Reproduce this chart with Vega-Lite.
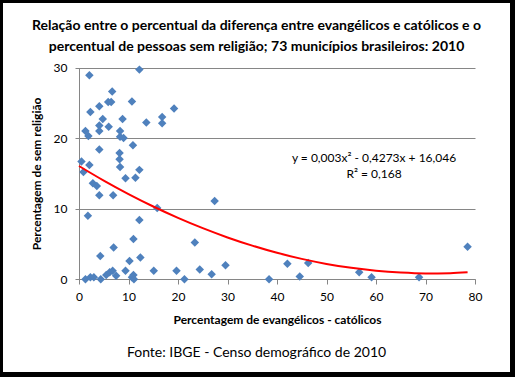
{
  "$schema": "https://vega.github.io/schema/vega-lite/v6.json",
  "width": 507,
  "height": 369,
  "autosize": {"type": "none"},
  "padding": {"left": 3, "top": 3, "right": 5, "bottom": 5},
  "background": "#000000",
  "config": {
    "view": {"fill": "#ffffff", "stroke": null},
    "font": "Lato"
  },
  "title": {
    "text": ["Relação entre o percentual da diferença entre evangélicos e católicos e o", "percentual de pessoas sem religião;  73 municípios brasileiros: 2010"],
    "subtitle": "Fonte: IBGE - Censo demográfico de 2010",
    "orient": "top",
    "anchor": "middle",
    "frame": "group",
    "font": "Lato",
    "fontSize": 14,
    "fontWeight": "bold",
    "color": "#000000",
    "lineHeight": 21,
    "subtitleFont": "Lato",
    "subtitleFontSize": 14,
    "subtitleFontWeight": "normal",
    "subtitleColor": "#000000",
    "subtitlePadding": 292,
    "offset": -357
  },
  "datasets": {
    "pts": [
      {"x": 2.1, "y": 28.9}, {"x": 12.2, "y": 29.7}, {"x": 6.7, "y": 26.6}, {"x": 4.1, "y": 24.5}, {"x": 5.9, "y": 25.1},
      {"x": 6.5, "y": 25.1}, {"x": 10.7, "y": 25.2}, {"x": 2.3, "y": 23.7}, {"x": 19.2, "y": 24.2}, {"x": 4.8, "y": 22.7},
      {"x": 8.8, "y": 22.7}, {"x": 13.6, "y": 22.2}, {"x": 16.8, "y": 23.0}, {"x": 16.8, "y": 22.1}, {"x": 4.1, "y": 21.8},
      {"x": 6.0, "y": 21.6}, {"x": 1.3, "y": 21.0}, {"x": 4.1, "y": 21.0}, {"x": 1.9, "y": 20.3}, {"x": 8.3, "y": 21.0},
      {"x": 8.3, "y": 20.2}, {"x": 9.0, "y": 20.0}, {"x": 10.9, "y": 19.0}, {"x": 4.1, "y": 18.4}, {"x": 8.2, "y": 17.9},
      {"x": 8.2, "y": 17.0}, {"x": 0.5, "y": 16.7}, {"x": 2.1, "y": 16.2}, {"x": 8.3, "y": 15.9}, {"x": 12.2, "y": 15.5},
      {"x": 0.9, "y": 15.2}, {"x": 2.8, "y": 13.6}, {"x": 3.6, "y": 13.2}, {"x": 4.1, "y": 11.9}, {"x": 6.9, "y": 11.9},
      {"x": 9.4, "y": 14.3}, {"x": 11.4, "y": 14.4}, {"x": 15.8, "y": 10.1}, {"x": 1.8, "y": 9.0}, {"x": 12.2, "y": 8.4},
      {"x": 27.4, "y": 11.1}, {"x": 11.0, "y": 5.7}, {"x": 7.0, "y": 4.5}, {"x": 4.3, "y": 3.3}, {"x": 12.4, "y": 3.1},
      {"x": 10.2, "y": 2.6}, {"x": 23.4, "y": 5.2}, {"x": 9.4, "y": 1.2}, {"x": 15.1, "y": 1.2}, {"x": 19.7, "y": 1.2},
      {"x": 11.0, "y": 0.6}, {"x": 10.7, "y": 0.3}, {"x": 11.1, "y": 0.0}, {"x": 1.3, "y": 0.0}, {"x": 2.3, "y": 0.3},
      {"x": 3.0, "y": 0.3}, {"x": 4.4, "y": 0.0}, {"x": 5.5, "y": 0.6}, {"x": 6.2, "y": 1.0}, {"x": 6.8, "y": 1.2},
      {"x": 7.5, "y": 0.5}, {"x": 21.3, "y": 0.0}, {"x": 24.4, "y": 1.4}, {"x": 26.8, "y": 0.7}, {"x": 29.6, "y": 2.0},
      {"x": 38.4, "y": 0.0}, {"x": 42.1, "y": 2.2}, {"x": 44.6, "y": 0.4}, {"x": 46.3, "y": 2.3}, {"x": 56.6, "y": 1.0},
      {"x": 59.1, "y": 0.3}, {"x": 68.7, "y": 0.3}, {"x": 78.5, "y": 4.6}
    ],
    "trend": [
      {"x": 0, "y": 16.05}, {"x": 5, "y": 13.98}, {"x": 10, "y": 12.07}, {"x": 15, "y": 10.31},
      {"x": 20, "y": 8.70}, {"x": 25, "y": 7.24}, {"x": 30, "y": 5.93}, {"x": 35, "y": 4.77},
      {"x": 40, "y": 3.75}, {"x": 45, "y": 2.89}, {"x": 50, "y": 2.18}, {"x": 55, "y": 1.62},
      {"x": 60, "y": 1.21}, {"x": 65, "y": 0.95}, {"x": 70, "y": 0.83}, {"x": 75, "y": 0.87}, {"x": 78.5, "y": 0.99}
    ],
    "eq": [
      {"label": "y = 0,003x² - 0,4273x + 16,046\nR² = 0,168"}
    ]
  },
  "layer": [
    {
      "data": {"name": "pts"},
      "mark": {"type": "point", "shape": "diamond", "filled": true, "size": 72, "color": "#4F81BD", "opacity": 1},
      "encoding": {
        "x": {
          "field": "x", "type": "quantitative",
          "scale": {"domain": [0, 80], "range": [76, 472], "nice": false, "zero": false},
          "axis": {
            "title": "Percentagem de evangélicos - católicos",
            "values": [0, 10, 20, 30, 40, 50, 60, 70, 80],
            "offset": -93,
            "grid": false,
            "domainColor": "#868686",
            "tickColor": "#868686",
            "tickSize": 5,
            "labelFlush": false,
            "labelFont": "Lato",
            "labelFontSize": 12,
            "labelColor": "#000000",
            "labelPadding": 7,
            "titleFont": "Lato",
            "titleFontSize": 12,
            "titleFontWeight": "bold",
            "titleColor": "#000000",
            "titlePadding": 12
          }
        },
        "y": {
          "field": "y", "type": "quantitative",
          "scale": {"domain": [0, 30], "range": [276.3, 64.5], "nice": false, "zero": false},
          "axis": {
            "title": "Percentagem de sem religião",
            "values": [0, 10, 20, 30],
            "offset": -76,
            "grid": true,
            "gridColor": "#868686",
            "domainColor": "#868686",
            "tickColor": "#868686",
            "tickSize": 4,
            "labelFont": "Lato",
            "labelFontSize": 12,
            "labelColor": "#000000",
            "labelPadding": 8,
            "titleFont": "Lato",
            "titleFontSize": 12,
            "titleFontWeight": "bold",
            "titleColor": "#000000",
            "titlePadding": 10
          }
        }
      }
    },
    {
      "data": {"name": "trend"},
      "mark": {"type": "line", "color": "#FF0000", "strokeWidth": 2, "interpolate": "monotone"},
      "encoding": {
        "x": {"field": "x", "type": "quantitative"},
        "y": {"field": "y", "type": "quantitative"}
      }
    },
    {
      "data": {"name": "eq"},
      "mark": {"type": "text", "font": "Lato", "fontSize": 12, "color": "#000000", "lineBreak": "\n", "lineHeight": 16, "align": "center", "baseline": "middle"},
      "encoding": {
        "x": {"datum": 59.6, "type": "quantitative"},
        "y": {"datum": 17.2, "type": "quantitative"},
        "text": {"field": "label"}
      }
    }
  ]
}
